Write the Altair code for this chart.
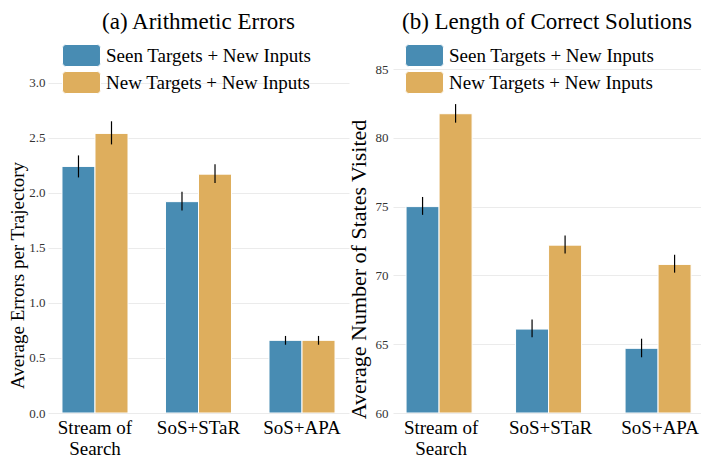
import altair as alt
import pandas as pd

methods = ["Stream of Search", "SoS+STaR", "SoS+APA"]
series = ["Seen Targets + New Inputs", "New Targets + New Inputs"]
colors = ["#488cb3", "#deae5d"]

# (a) Arithmetic errors
err_seen = [2.24, 1.92, 0.66]
err_seen_lo = [2.14, 1.84, 0.62]
err_seen_hi = [2.34, 2.01, 0.70]
err_new = [2.54, 2.17, 0.66]
err_new_lo = [2.44, 2.09, 0.62]
err_new_hi = [2.65, 2.26, 0.70]

# (b) Length of correct solutions
len_seen = [75.0, 66.1, 64.7]
len_seen_lo = [74.4, 65.5, 64.05]
len_seen_hi = [75.7, 66.8, 65.4]
len_new = [81.75, 72.2, 70.8]
len_new_lo = [81.1, 71.6, 70.2]
len_new_hi = [82.45, 72.9, 71.5]

FONT = "Liberation Serif"
PLOT_H = 344


def make_df(seen, seen_lo, seen_hi, new, new_lo, new_hi):
    rows = []
    for i, m in enumerate(methods):
        rows.append(dict(method=m, series=series[0], value=seen[i], lo=seen_lo[i], hi=seen_hi[i]))
        rows.append(dict(method=m, series=series[1], value=new[i], lo=new_lo[i], hi=new_hi[i]))
    return pd.DataFrame(rows)


SWATCH = ("M -1.427 -1 L 1.427 -1 Q 1.727 -1 1.727 -0.7 L 1.727 0.7 Q 1.727 1 1.427 1 "
          "L -1.427 1 Q -1.727 1 -1.727 0.7 L -1.727 -0.7 Q -1.727 -1 -1.427 -1 Z")


def panel(df, title, ytitle, ytitle_size, ytitle_x, ytitle_y, domain, ticks, fmt, width, pin, pout,
          align, lx, ylabel_pad):
    xenc = alt.X("method:N", sort=methods, title=None,
                 scale=alt.Scale(paddingInner=pin, paddingOuter=pout, align=align),
                 axis=alt.Axis(labelAngle=0, labelFont=FONT, labelFontSize=19, labelColor="black",
                               labelPadding=5, ticks=False, domain=False, grid=False,
                               labelLineHeight=21,
                               labelExpr="datum.value == 'Stream of Search' ? ['Stream of', 'Search'] : datum.label"))
    yscale = alt.Scale(domain=domain, nice=False, zero=False)
    yaxis = alt.Axis(values=ticks, format=fmt, title=ytitle, titleFont=FONT, titleFontSize=ytitle_size,
                     titleFontWeight="normal", titleColor="black", titleX=ytitle_x, titleY=ytitle_y,
                     labelFont=FONT, labelFontSize=13, labelColor="#333333", labelPadding=ylabel_pad,
                     ticks=False, domain=False, grid=True, gridColor="#ebebeb", gridWidth=1)
    base = alt.Chart(df)
    bars = base.mark_bar(stroke="white", strokeWidth=1, clip=True).encode(
        x=xenc,
        xOffset=alt.XOffset("series:N", sort=series, scale=alt.Scale(paddingInner=0, paddingOuter=0)),
        y=alt.Y("value:Q", scale=yscale, axis=yaxis),
        y2=alt.Y2(datum=domain[0]),
        color=alt.Color("series:N", sort=series,
                        scale=alt.Scale(domain=series, range=colors),
                        legend=alt.Legend(title=None, orient="none", legendX=lx, legendY=-25,
                                          symbolType=SWATCH, symbolSize=484,
                                          symbolStrokeColor="white", symbolStrokeWidth=1,
                                          symbolOpacity=1,
                                          labelFont=FONT, labelFontSize=19, labelColor="black",
                                          labelOffset=13, rowPadding=0, padding=0,
                                          labelLimit=400)),
    )
    errs = base.mark_rule(color="black", strokeWidth=1.2).encode(
        x=alt.X("method:N", sort=methods),
        xOffset=alt.XOffset("series:N", sort=series),
        y=alt.Y("lo:Q"),
        y2="hi:Q",
    )
    return alt.layer(bars, errs).properties(
        width=width, height=PLOT_H,
        title=alt.TitleParams(title, font=FONT, fontSize=23, fontWeight="normal", color="black",
                              anchor="middle", offset=10),
    )


df_a = make_df(err_seen, err_seen_lo, err_seen_hi, err_new, err_new_lo, err_new_hi)
df_b = make_df(len_seen, len_seen_lo, len_seen_hi, len_new, len_new_lo, len_new_hi)

left = panel(df_a, "(a) Arithmetic Errors", "Average Errors  per Trajectory", 19, -21, 206,
             [0, 3.125], [0, 0.5, 1.0, 1.5, 2.0, 2.5, 3.0], ".1f", 301, 0.362, 0.135, 0.5, 22, 3)
right = panel(df_b, "(b) Length of Correct Solutions", "Average Number of States Visited", 22, -23, 200,
              [60, 85], [60, 65, 70, 75, 80, 85], "d", 308, 0.36, 0.0864, 0.69, 20, 5)

chart = alt.hconcat(left, right, spacing=44, bounds="flush").resolve_scale(color="independent").resolve_legend(
    color="independent"
).properties(padding={"left": 0, "top": 3, "right": 0, "bottom": 0}).configure_view(stroke=None)

chart.save("out.html", embed_options={"renderer": "svg", "actions": False})
